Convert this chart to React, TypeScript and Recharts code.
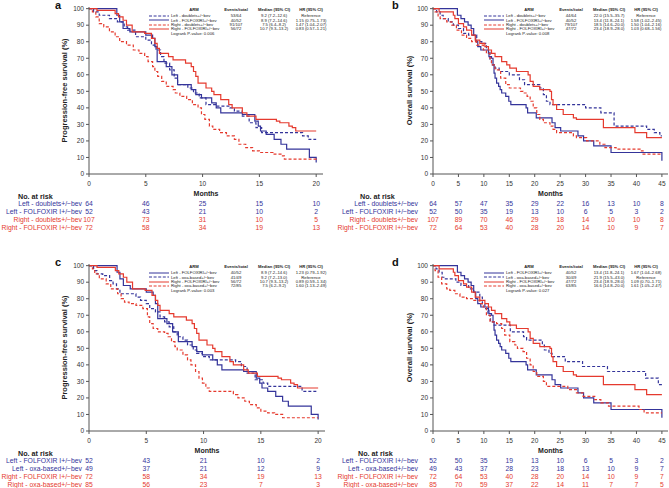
import React from "react"
import { LineChart, Line, XAxis, YAxis } from "recharts"

type Pt = [number, number]

const BLUE = "#34349a"
const RED = "#e53a2e"
const AXIS = "#555"
const FRAME = "#777"
const FONT = '"Liberation Sans", Arial, Helvetica, sans-serif'

// [months, survival %]
const pfsLeftDoublets: Pt[] = [[0,100],[0.4,98],[0.9,96],[1.8,94],[2.5,92],[3.1,89],[3.4,87],[4.1,83],[5.0,81],[5.5,78],[5.9,75],[6.3,71],[6.6,67],[7.1,63],[7.5,58],[7.8,54],[8.7,52],[9.2,49],[9.7,46],[10.3,42],[11.2,41],[12.4,40],[12.8,38],[13.5,35],[14.1,31],[14.7,28],[15.2,25],[18.5,25],[18.8,23],[19.3,21],[20,21]]
const pfsLeftFolfoxiri: Pt[] = [[0,100],[2.45,96],[2.7,92],[3.0,88],[3.6,86],[5.0,84],[5.6,82],[5.8,77],[6.0,68],[6.8,65],[7.3,60],[7.8,54],[9.0,51],[9.4,48],[9.9,46],[10.8,43],[11.2,40],[11.6,37],[13.5,36],[14.6,32],[14.9,29],[15.1,26],[15.6,24],[16.3,21],[16.9,18],[17.4,15],[19.4,10],[20,7]]
const pfsRightDoublets: Pt[] = [[0,100],[0.3,98],[0.6,95],[0.9,91],[1.3,89],[1.8,86],[2.3,83],[2.7,80],[3.3,78],[3.9,75],[4.4,73],[4.9,71],[5.2,68],[5.6,65],[5.8,62],[6.05,59],[6.4,56],[6.8,53],[7.4,51],[7.6,49],[8.0,47],[8.6,45],[9.1,42],[9.6,40],[9.9,36],[10.2,33],[10.6,29],[10.9,27],[11.5,25],[12.1,23],[12.8,21],[13.2,18],[13.8,16],[14.4,14],[15.0,13],[16.2,12],[16.9,11],[17.2,9],[19.7,9],[20,8]]
const pfsRightFolfoxiri: Pt[] = [[0,100],[0.7,99],[2.3,97],[2.6,95],[3.0,93],[3.3,90],[3.8,86],[4.9,85],[5.5,82],[5.8,79],[6.0,76],[6.2,73],[7.0,71],[7.4,69],[8.5,67],[9.0,65],[9.2,62],[9.4,59],[9.6,55],[10.3,52],[10.8,50],[11.0,48],[11.6,45],[12.3,42],[12.6,40],[13.5,37],[13.9,35],[14.7,33],[16.5,32],[16.8,31],[17.6,29],[17.9,28],[18.2,26],[20,26]]
const pfsLeftOxa: Pt[] = [[0,100],[0.4,97],[0.7,95],[1.2,94],[1.8,91],[2.1,89],[2.4,86],[2.7,83],[4.1,81],[4.5,79],[5.0,77],[5.3,74],[5.8,72],[6.2,69],[6.6,66],[7.0,63],[7.4,60],[7.7,57],[8.2,55],[8.6,52],[9.1,49],[9.4,47],[9.9,45],[10.5,43],[12.8,42],[13.3,39],[13.8,35],[14.5,31],[15.2,29],[15.6,27],[18.4,27],[18.6,24],[20,24]]
const pfsRightOxa: Pt[] = [[0,100],[0.3,98],[0.5,95],[0.9,92],[1.5,89],[1.9,86],[2.5,83],[2.8,80],[3.1,78],[3.5,77],[4.1,76],[4.7,74],[5.1,69],[5.3,65],[5.6,62],[6.0,60],[6.6,59],[6.9,57],[7.2,54],[7.5,51],[7.7,49],[8.2,46],[8.6,43],[8.9,40],[9.3,36],[9.6,32],[9.9,29],[10.2,26],[10.5,24],[11.8,24],[12.6,22],[13.0,20],[13.6,18],[14.0,16],[14.6,14],[15.0,12],[15.6,11],[16.2,10],[16.9,8],[20,8]]

const osLeftDoublets: Pt[] = [[0,100],[0.7,98],[1.4,96],[2.0,94],[3.0,92],[4.0,90],[5.0,88],[6.0,85],[7.0,84],[8.6,80],[9.6,79],[10.5,76],[10.9,74],[11.2,69],[11.5,66],[12.2,64],[13.0,62],[15.0,60],[17.0,57],[18.0,54],[21.0,52],[21.7,48],[22.3,44],[23.0,42],[30.0,40],[33.0,37],[35.6,29],[42.0,27],[43.5,25],[44.6,23],[45,23]]
const osLeftFolfoxiri: Pt[] = [[0,100],[4.8,96],[5.5,94],[6.2,92],[6.9,90],[7.5,88],[8.0,84],[8.4,80],[8.8,77],[9.4,75],[10.9,73],[11.0,71],[11.5,70],[11.8,66],[12.0,61],[12.2,58],[12.5,55],[12.9,53],[13.2,51],[13.5,49],[14.3,47],[14.9,44],[15.3,42],[18.3,40],[18.6,37],[20.3,34],[23.4,31],[24.0,28],[25.1,26],[28.5,23],[29.6,20],[31.6,17],[35.0,13],[44.7,13],[45,8]]
const osRightDoublets: Pt[] = [[0,100],[0.4,98],[1.0,95],[1.4,94],[2.7,92],[3.7,90],[4.6,87],[5.6,84],[6.6,82],[7.6,80],[8.6,78],[9.9,75],[10.5,73],[11.2,70],[11.5,66],[12.2,63],[13.3,58],[14.3,54],[15.0,52],[17.2,50],[17.7,49],[18.5,47],[19.1,44],[19.7,40],[20.4,36],[21.0,33],[21.7,31],[23.0,29],[23.6,27],[24.3,25],[27.6,23],[28.2,22],[30.2,20],[32.8,18],[33.8,16],[36.0,15],[40.7,14],[41.3,12],[45,12]]
const osRightFolfoxiri: Pt[] = [[0,100],[1.2,98],[4.0,96],[4.3,94],[5.0,91],[6.0,89],[6.6,87],[7.6,84],[8.3,81],[9.2,79],[10.2,77],[10.9,75],[11.5,73],[12.2,71],[13.5,68],[14.5,66],[15.1,64],[16.4,62],[18.7,60],[19.1,56],[19.7,53],[21.0,51],[23.0,50],[23.3,45],[23.6,42],[24.3,39],[25.6,36],[27.6,34],[28.2,33],[33.5,28],[39.7,25],[42.0,22],[45,22]]
const osLeftOxa: Pt[] = [[0,100],[0.6,98],[1.2,96],[1.8,93],[2.3,92],[4.5,90],[5.5,88],[7.0,86],[8.0,84],[9.2,81],[9.7,77],[10.2,74],[10.8,70],[11.3,66],[12.0,64],[15.2,60],[17.8,57],[18.4,55],[21.5,52],[21.9,49],[22.8,47],[23.4,45],[26.0,42],[29.4,39],[34.3,36],[41.8,32],[44.3,28],[45,28]]
const osRightOxa: Pt[] = [[0,100],[0.4,97],[1.0,93],[1.7,89],[2.7,86],[3.3,85],[4.3,83],[5.3,81],[6.6,80],[7.9,79],[9.2,77],[9.9,75],[10.5,70],[11.2,66],[12.5,65],[13.5,62],[14.1,58],[15.1,54],[16.1,52],[16.6,50],[17.7,48],[18.4,44],[19.1,40],[19.7,36],[20.4,33],[21.7,30],[22.3,27],[26.5,25],[28.2,23],[29.5,21],[31.8,19],[33.0,17],[34.5,15],[40.5,13],[41.5,11],[45,11]]

const pfsTicks = [0, 5, 10, 15, 20]
const osTicks = [0, 5, 10, 15, 20, 25, 30, 35, 40, 45]
const survTicks = [0, 10, 20, 30, 40, 50, 60, 70, 80, 90, 100]

const riskPfsLeftDoublets = [64, 46, 25, 15, 10]
const riskPfsLeftFolfoxiri = [52, 43, 21, 10, 2]
const riskPfsRightDoublets = [107, 73, 31, 10, 5]
const riskPfsRightFolfoxiri = [72, 58, 34, 19, 13]
const riskPfsLeftOxa = [49, 37, 21, 12, 9]
const riskPfsRightOxa = [85, 56, 23, 7, 3]
const riskOsLeftDoublets = [64, 57, 47, 35, 29, 22, 16, 13, 10, 8]
const riskOsLeftFolfoxiri = [52, 50, 35, 19, 13, 10, 6, 5, 3, 2]
const riskOsRightDoublets = [107, 89, 70, 46, 29, 18, 14, 10, 10, 8]
const riskOsRightFolfoxiri = [72, 64, 53, 40, 28, 20, 14, 10, 9, 7]
const riskOsLeftOxa = [49, 43, 37, 28, 23, 18, 13, 10, 9, 7]
const riskOsRightOxa = [85, 70, 59, 37, 22, 14, 11, 7, 7, 5]

interface Series {
  arm: string
  riskLabel: string
  data: Pt[]
  risk: number[]
  color: string
  dashed: boolean
  events: string
  median: string
  hr: string
}

interface PanelCfg {
  letter: string
  left: number
  top: number
  width: number
  marginLeft: number
  marginRight: number
  yAxisWidth: number
  xMax: number
  xTicks: number[]
  yLabel: string
  logrank: string
  riskHeaderX: number
  riskLabelOffset: number
  letterX: number
  series: Series[]
}

const H = 236

const panels: PanelCfg[] = [
  {
    letter: "a", left: 0, top: 0, width: 335, marginLeft: 39, marginRight: 12, yAxisWidth: 50,
    xMax: 20.6, xTicks: pfsTicks, yLabel: "Progression-free survival (%)", logrank: "Logrank P-value: 0.006", riskHeaderX: 18, riskLabelOffset: 7, letterX: 55,
    series: [
      { arm: "Left - doublets+/−bev", riskLabel: "Left - doublets+/−bev", data: pfsLeftDoublets, risk: riskPfsLeftDoublets, color: BLUE, dashed: true, events: "53/64", median: "9.2 (7.2–12.6)", hr: "Reference" },
      { arm: "Left - FOLFOXIRI+/−bev", riskLabel: "Left - FOLFOXIR I+/−bev", data: pfsLeftFolfoxiri, risk: riskPfsLeftFolfoxiri, color: BLUE, dashed: false, events: "40/52", median: "8.9 (7.2–14.6)", hr: "1.15 (0.75–1.73)" },
      { arm: "Right - doublets+/−bev", riskLabel: "Right - doublets+/−bev", data: pfsRightDoublets, risk: riskPfsRightDoublets, color: RED, dashed: true, events: "91/107", median: "7.5 (6.4–8.2)", hr: "1.47 (1.04–2.07)" },
      { arm: "Right - FOLFOXIRI+/−bev", riskLabel: "Right - FOLFOXIR I+/−bev", data: pfsRightFolfoxiri, risk: riskPfsRightFolfoxiri, color: RED, dashed: false, events: "56/72", median: "10.7 (9.3–13.2)", hr: "0.83 (0.57–1.21)" },
    ],
  },
  {
    letter: "b", left: 335, top: 0, width: 334, marginLeft: 50, marginRight: 1, yAxisWidth: 48,
    xMax: 46.2, xTicks: osTicks, yLabel: "Overall survival (%)", logrank: "Logrank P-value: 0.008", riskHeaderX: 25, riskLabelOffset: 15, letterX: 57,
    series: [
      { arm: "Left - doublets+/−bev", riskLabel: "Left - doublets+/−bev", data: osLeftDoublets, risk: riskOsLeftDoublets, color: BLUE, dashed: true, events: "44/64", median: "22.0 (15.5–35.7)", hr: "Reference" },
      { arm: "Left - FOLFOXIRI+/−bev", riskLabel: "Left - FOLFOXIR I+/−bev", data: osLeftFolfoxiri, risk: riskOsLeftFolfoxiri, color: BLUE, dashed: false, events: "40/52", median: "13.4 (11.8–24.1)", hr: "1.58 (1.02–2.45)" },
      { arm: "Right - doublets+/−bev", riskLabel: "Right - doublets+/−bev", data: osRightDoublets, risk: riskOsRightDoublets, color: RED, dashed: true, events: "79/107", median: "18.5 (14.6–20.0)", hr: "1.50 (1.04–2.16)" },
      { arm: "Right - FOLFOXIRI+/−bev", riskLabel: "Right - FOLFOXIR I+/−bev", data: osRightFolfoxiri, risk: riskOsRightFolfoxiri, color: RED, dashed: false, events: "47/72", median: "23.4 (18.9–28.0)", hr: "1.03 (0.68–1.56)" },
    ],
  },
  {
    letter: "c", left: 0, top: 257, width: 335, marginLeft: 39, marginRight: 10, yAxisWidth: 50,
    xMax: 20.6, xTicks: pfsTicks, yLabel: "Progression-free survival (%)", logrank: "Logrank P-value: 0.003", riskHeaderX: 18, riskLabelOffset: 7, letterX: 55,
    series: [
      { arm: "Left - FOLFOXIRI+/−bev", riskLabel: "Left - FOLFOXIR I+/−bev", data: pfsLeftFolfoxiri, risk: riskPfsLeftFolfoxiri, color: BLUE, dashed: false, events: "40/52", median: "8.9 (7.2–14.6)", hr: "1.23 (0.79–1.92)" },
      { arm: "Left - oxa-based+/−bev", riskLabel: "Left - oxa-based+/−bev", data: pfsLeftOxa, risk: riskPfsLeftOxa, color: BLUE, dashed: true, events: "41/49", median: "9.2 (7.2–13.0)", hr: "Reference" },
      { arm: "Right - FOLFOXIRI+/−bev", riskLabel: "Right - FOLFOXIR I+/−bev", data: pfsRightFolfoxiri, risk: riskPfsRightFolfoxiri, color: RED, dashed: false, events: "56/72", median: "10.7 (9.3–13.2)", hr: "0.89 (0.59–1.34)" },
      { arm: "Right - oxa-based+/−bev", riskLabel: "Right - oxa-based+/−bev", data: pfsRightOxa, risk: riskPfsRightOxa, color: RED, dashed: true, events: "72/85", median: "7.5 (6.2–9.2)", hr: "1.60 (1.13–2.49)" },
    ],
  },
  {
    letter: "d", left: 335, top: 257, width: 334, marginLeft: 50, marginRight: 1, yAxisWidth: 48,
    xMax: 46.2, xTicks: osTicks, yLabel: "Overall survival (%)", logrank: "Logrank P-value: 0.027", riskHeaderX: 23, riskLabelOffset: 15, letterX: 57,
    series: [
      { arm: "Left - FOLFOXIRI+/−bev", riskLabel: "Left - FOLFOXIR I+/−bev", data: osLeftFolfoxiri, risk: riskOsLeftFolfoxiri, color: BLUE, dashed: false, events: "40/52", median: "13.4 (11.8–24.1)", hr: "1.67 (1.04–2.68)" },
      { arm: "Left - oxa-based+/−bev", riskLabel: "Left - oxa-based+/−bev", data: osLeftOxa, risk: riskOsLeftOxa, color: BLUE, dashed: true, events: "30/49", median: "21.9 (15.5–43.0)", hr: "Reference" },
      { arm: "Right - FOLFOXIRI+/−bev", riskLabel: "Right - FOLFOXIR I+/−bev", data: osRightFolfoxiri, risk: riskOsRightFolfoxiri, color: RED, dashed: false, events: "47/72", median: "23.4 (18.9–28.0)", hr: "1.09 (0.70–1.71)" },
      { arm: "Right - oxa-based+/−bev", riskLabel: "Right - oxa-based+/−bev", data: osRightOxa, risk: riskOsRightOxa, color: RED, dashed: true, events: "63/85", median: "16.6 (14.8–20.0)", hr: "1.61 (1.05–2.47)" },
    ],
  },
]

const toPoints = (arr: Pt[]) => arr.map(([t, s]) => ({ t, s }))

function LegendBox({ p }: { p: PanelCfg }) {
  const L = 149
  const T = 10
  const fs = 4.2
  const cell = (text: string, cx: number, cy: number, bold = false) => (
    <span
      style={{
        position: "absolute", left: cx - 30, width: 60, top: cy - fs * 0.65, lineHeight: `${fs * 1.3}px`,
        fontSize: fs, textAlign: "center", whiteSpace: "nowrap", fontWeight: bold ? 700 : 400, color: "#222",
      }}
    >
      {text}
    </span>
  )
  return (
    <div style={{ position: "absolute", left: 0, top: 0, fontFamily: FONT }}>
      {cell("ARM", L + 45, T, true)}
      {cell("Events/total", L + 87, T, true)}
      {cell("Median (95% CI)", L + 125, T, true)}
      {cell("HR (95% CI)", L + 162, T, true)}
      {p.series.map((s, i) => {
        const cy = T + 6 + i * 4.4
        return (
          <React.Fragment key={i}>
            <svg style={{ position: "absolute", left: L, top: cy - 1 }} width={20} height={2}>
              <line x1={0} y1={1} x2={20} y2={1} stroke={s.color} strokeWidth={1} strokeDasharray={s.dashed ? "3 1.6" : undefined} />
            </svg>
            <span style={{ position: "absolute", left: L + 22, top: cy - fs * 0.65, lineHeight: `${fs * 1.3}px`, fontSize: fs, whiteSpace: "nowrap", color: "#222" }}>
              {s.arm}
            </span>
            {cell(s.events, L + 87, cy)}
            {cell(s.median, L + 125, cy)}
            {cell(s.hr, L + 162, cy)}
          </React.Fragment>
        )
      })}
      <span style={{ position: "absolute", left: L + 22, top: T + 23.6 - fs * 0.65, lineHeight: `${fs * 1.3}px`, fontSize: fs, whiteSpace: "nowrap", color: "#222" }}>
        {p.logrank}
      </span>
    </div>
  )
}

function Panel({ p }: { p: PanelCfg }) {
  const ticks = p.xTicks
  return (
    <div style={{ position: "absolute", left: p.left, top: p.top, width: p.width, height: H, fontFamily: FONT }}>
      <LineChart
        width={p.width}
        height={H}
        margin={{ top: 7, right: p.marginRight, bottom: 4, left: p.marginLeft }}
        style={{ fontFamily: FONT }}
      >
        <XAxis
          dataKey="t"
          type="number"
          domain={[0, p.xMax]}
          ticks={ticks}
          interval={0}
          allowDataOverflow
          height={26}
          tickSize={3}
          tickMargin={4}
          stroke={AXIS}
          tick={{ fontSize: 6.5, fill: "#333" }}
          label={{ value: "Months", position: "insideBottom", offset: 4, fontSize: 7, fontWeight: 700, fill: "#222" }}
        />
        {p.series.map((s, i) => (
          <XAxis
            key={`risk${i}`}
            xAxisId={`risk${i}`}
            dataKey="t"
            type="number"
            domain={[0, p.xMax]}
            ticks={ticks}
            interval={0}
            allowDataOverflow
            height={8}
            axisLine={false}
            tickLine={false}
            tickSize={0}
            tickMargin={1.5}
            tick={{ fontSize: 6.8, fill: s.color }}
            tickFormatter={(v: number) => String(s.risk[ticks.indexOf(v)])}
            label={{ value: s.riskLabel, position: "left", offset: p.riskLabelOffset, fontSize: 6.8, fill: s.color }}
          />
        ))}
        <XAxis xAxisId="frame" orientation="top" type="number" domain={[0, p.xMax]} height={0} tick={false} tickLine={false} stroke={FRAME} />
        <YAxis
          type="number"
          domain={[0, 101]}
          ticks={survTicks}
          interval={0}
          allowDataOverflow
          width={p.yAxisWidth}
          tickSize={3}
          tickMargin={2}
          stroke={AXIS}
          tick={{ fontSize: 6.5, fill: "#333" }}
          label={{ value: p.yLabel, angle: -90, position: "center", fontSize: 7.5, fontWeight: 700, fill: "#222" }}
        />
        <YAxis yAxisId="frame" orientation="right" type="number" domain={[0, 101]} width={0} tick={false} tickLine={false} stroke={FRAME} />
        {/* invisible carriers so every risk-row axis has data behind it */}
        {p.series.map((s, i) => (
          <Line
            key={`carrier${i}`}
            xAxisId={`risk${i}`}
            data={toPoints(s.data)}
            dataKey="s"
            stroke="none"
            dot={false}
            activeDot={false}
            legendType="none"
            isAnimationActive={false}
          />
        ))}
        {p.series.map((s, i) => (
          <Line
            key={`line${i}`}
            data={toPoints(s.data)}
            dataKey="s"
            type="stepAfter"
            stroke={s.color}
            strokeWidth={1.2}
            strokeDasharray={s.dashed ? "3 2" : undefined}
            dot={false}
            activeDot={false}
            isAnimationActive={false}
          />
        ))}
      </LineChart>
      <LegendBox p={p} />
      <div style={{ position: "absolute", left: p.riskHeaderX, top: 193, fontSize: 7.2, fontWeight: 700, color: "#222", whiteSpace: "nowrap", lineHeight: "8px" }}>
        No. at risk
      </div>
      <div style={{ position: "absolute", left: p.letterX, top: 0, fontSize: 11, fontWeight: 700, color: "#111", lineHeight: "11px" }}>
        {p.letter}
      </div>
    </div>
  )
}

export default function App() {
  return (
    <div style={{ position: "absolute", left: 0, top: 0, width: 669, height: 488, background: "#fff", overflow: "hidden" }}>
      {panels.map((p) => (
        <Panel key={p.letter} p={p} />
      ))}
    </div>
  )
}
